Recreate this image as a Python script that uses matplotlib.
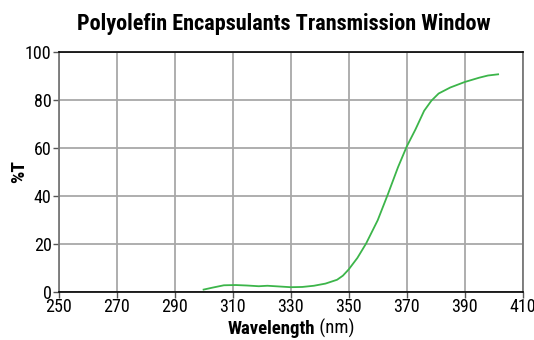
import matplotlib
matplotlib.use("Agg")
import matplotlib.pyplot as plt

# transmission curve
wavelength = [300, 303, 307, 311, 315, 319, 322, 326, 330, 334, 338, 342, 346, 348,
              350, 353, 356, 360, 363.5, 367, 370, 373, 376, 378.5, 381, 385, 390, 395, 398, 401.5]
transmission = [0.8, 1.6, 2.6, 2.7, 2.5, 2.2, 2.4, 2.1, 1.8, 1.9, 2.4, 3.3, 4.9, 6.6,
                 9.2, 14.0, 20.0, 29.7, 40.5, 51.8, 60.4, 67.5, 75.3, 79.5, 82.5, 85.0, 87.3, 89.1, 90.0, 90.5]

x_ticks = [250, 270, 290, 310, 330, 350, 370, 390, 410]
y_ticks = [0, 20, 40, 60, 80, 100]

plt.rcParams["font.family"] = ["Roboto Condensed", "Liberation Sans", "DejaVu Sans"]

fig = plt.figure(figsize=(5.34, 3.40), dpi=100)
ax = fig.add_axes([0.1096, 0.1426, 0.979 - 0.1096, 0.8485 - 0.1426])

ax.plot(wavelength, transmission, color="#3cb54a", lw=1.3, zorder=3)

ax.set_xlim(250, 410)
ax.set_ylim(0, 100)
ax.set_xticks(x_ticks)
ax.set_yticks(y_ticks)
ax.grid(True, color="#a8a8a8", lw=1.3)
ax.set_axisbelow(True)

ax.tick_params(axis="both", direction="out", length=4, width=1, color="#555555",
               labelsize=13, pad=1)
for side in ["top", "bottom"]:
    ax.spines[side].set_color("black")
    ax.spines[side].set_linewidth(1.2)
for side in ["left", "right"]:
    ax.spines[side].set_color("#777777")
    ax.spines[side].set_linewidth(1.3)

ax.set_ylabel("%T", fontsize=14, fontweight="bold", labelpad=-2)

# x label: bold word followed by plain unit
ax.text(0.553, -0.155, "Wavelength", transform=ax.transAxes, ha="right", va="center",
        fontsize=13.5, fontweight="bold")
ax.text(0.553, -0.155, " (nm)", transform=ax.transAxes, ha="left", va="center",
        fontsize=13.5)

fig.text(0.532, 0.93, "Polyolefin Encapsulants Transmission Window", ha="center",
         va="center", fontsize=16, fontweight="bold")

fig.savefig("out.png", dpi=100)
